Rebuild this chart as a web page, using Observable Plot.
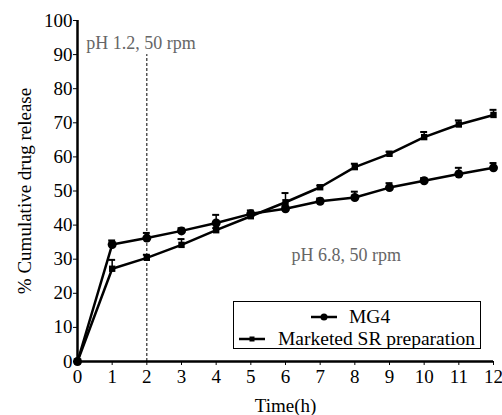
<!DOCTYPE html>
<html>
<head>
<meta charset="utf-8">
<script src="https://cdn.jsdelivr.net/npm/d3@7"></script>
<script src="https://cdn.jsdelivr.net/npm/@observablehq/plot@0.6"></script>
<style>
  html, body { margin: 0; padding: 0; background: #fff; }
  #chart { position: relative; width: 502px; height: 415px; font-family: 'Liberation Serif', serif; }
  #chart svg, #chart text { font-family: 'Liberation Serif', serif !important; font-weight: normal; }
  #legend { position: absolute; left: 233px; top: 301px; width: 246px; height: 46px; border: 1px solid #000; background: #fff; }
</style>
</head>
<body>
<div id="chart"></div>
<script>
const times = [0, 1, 2, 3, 4, 5, 6, 7, 8, 9, 10, 11, 12];
const mg4 = [0, 34.3, 36.2, 38.3, 40.6, 43.3, 44.8, 47.0, 48.1, 51.0, 53.0, 55.0, 56.8];
const mg4Err = [0, 1.2, 1.5, 0.8, 2.4, 1.0, 0.8, 0.8, 1.7, 1.3, 0.8, 1.8, 1.4];
const mkt = [0, 27.2, 30.4, 34.2, 38.5, 42.6, 46.7, 51.1, 57.0, 60.9, 65.8, 69.5, 72.3];
const mktErr = [0, 2.6, 0.9, 1.7, 0.6, 1.0, 2.7, 0.5, 1.0, 0.6, 1.5, 1.2, 1.5];
const xTicks = [0, 1, 2, 3, 4, 5, 6, 7, 8, 9, 10, 11, 12];
const yTicks = [0, 10, 20, 30, 40, 50, 60, 70, 80, 90, 100];
const seriesNames = ["MG4", "Marketed SR preparation"];
const notes = [
  {x: 0.25, y: 91.6, text: "pH 1.2, 50 rpm", anchor: "start"},
  {x: 7.75, y: 29.5, text: "pH 6.8, 50 rpm", anchor: "middle"}
];
const phaseChange = [{x: 2, y1: 0, y2: 90}];
const capHalf = 0.1;

const mgData = times.map((t, i) => ({t, v: mg4[i], e: mg4Err[i]}));
const mkData = times.map((t, i) => ({t, v: mkt[i], e: mktErr[i]}));

const font = "'Liberation Serif', serif";

const chart = Plot.plot({
  width: 502,
  height: 415,
  marginLeft: 77,
  marginRight: 9,
  marginTop: 20,
  marginBottom: 54,
  style: {fontFamily: font, fontSize: "18px", background: "#fff", color: "#000"},
  x: {domain: [0, 12]},
  y: {domain: [0, 100]},
  marks: [
    Plot.ruleX(phaseChange, {x: "x", y1: "y1", y2: "y2", stroke: "#000", strokeWidth: 1, strokeDasharray: "3,2"}),
    Plot.text([notes[0]], {x: "x", y: "y", text: "text", textAnchor: "start", fill: "#666", fontSize: 18, lineAnchor: "bottom"}),
    Plot.text([notes[1]], {x: "x", y: "y", text: "text", textAnchor: "middle", fill: "#666", fontSize: 18, lineAnchor: "bottom"}),
    // error bars
    Plot.ruleX(mgData.filter(d => d.e > 0), {x: "t", y1: "v", y2: d => d.v + d.e, stroke: "#000", strokeWidth: 1.5}),
    Plot.ruleY(mgData.filter(d => d.e > 0), {y: d => d.v + d.e, x1: d => d.t - capHalf, x2: d => d.t + capHalf, stroke: "#000", strokeWidth: 2}),
    Plot.ruleX(mkData.filter(d => d.e > 0), {x: "t", y1: "v", y2: d => d.v + d.e, stroke: "#000", strokeWidth: 1.5}),
    Plot.ruleY(mkData.filter(d => d.e > 0), {y: d => d.v + d.e, x1: d => d.t - capHalf, x2: d => d.t + capHalf, stroke: "#000", strokeWidth: 2}),
    // lines
    Plot.line(mgData, {x: "t", y: "v", stroke: "#000", strokeWidth: 2.5}),
    Plot.line(mkData, {x: "t", y: "v", stroke: "#000", strokeWidth: 2.5}),
    Plot.dot(mgData, {x: "t", y: "v", r: 4.5, fill: "#000", stroke: "none"}),
    Plot.dot(mkData, {x: "t", y: "v", symbol: "square", r: 3.6, fill: "#000", stroke: "none"}),
    // axes
    Plot.axisX({ticks: xTicks, tickSize: 4, tickPadding: 4, tickFormat: d => String(d), fontSize: 19, label: "Time(h)", labelAnchor: "center", labelArrow: "none", labelOffset: 50}),
    Plot.axisY({ticks: yTicks, tickSize: 4, tickPadding: 1, tickFormat: d => String(d), fontSize: 19, label: "% Cumulative drug release", labelAnchor: "center", labelArrow: "none", labelOffset: 60}),
    Plot.ruleX([0], {stroke: "#000", strokeWidth: 2.5}),
    Plot.ruleY([0], {stroke: "#000", strokeWidth: 2.5})
  ]
});

const container = document.getElementById("chart");
container.appendChild(chart);

// legend overlay
const legend = document.createElement("div");
legend.id = "legend";
const ls = d3.create("svg").attr("width", 246).attr("height", 46).style("font-family", font);
const rows = [
  {name: seriesNames[0], x1: 77, x2: 103, tx: 115, y: 15, sym: "circle"},
  {name: seriesNames[1], x1: 5, x2: 31, tx: 44, y: 37, sym: "square"}
];
rows.forEach(r => {
  ls.append("line").attr("x1", r.x1).attr("x2", r.x2).attr("y1", r.y).attr("y2", r.y).attr("stroke", "#000").attr("stroke-width", 2.5);
  if (r.sym === "circle") {
    ls.append("circle").attr("cx", (r.x1 + r.x2) / 2).attr("cy", r.y).attr("r", 3.5).attr("fill", "#000");
  } else {
    ls.append("rect").attr("x", (r.x1 + r.x2) / 2 - 2.5).attr("y", r.y - 2.5).attr("width", 5).attr("height", 5).attr("fill", "#000");
  }
  ls.append("text").attr("x", r.tx).attr("y", r.y + 6).attr("font-size", 19.5).attr("fill", "#000").text(r.name);
});
legend.appendChild(ls.node());
container.appendChild(legend);
</script>
</body>
</html>
